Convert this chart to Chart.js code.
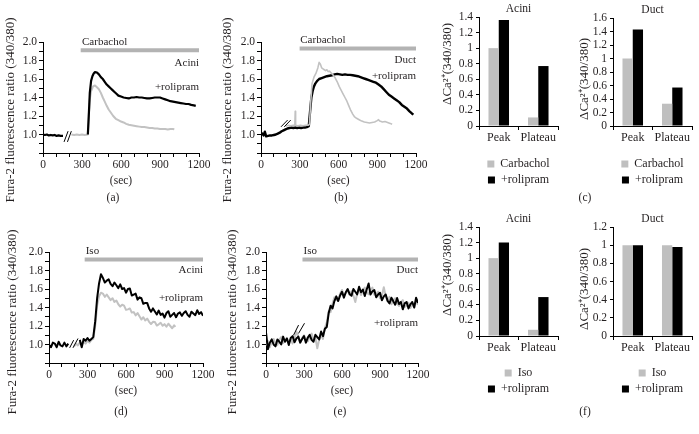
<!DOCTYPE html>
<html>
<head>
<meta charset="utf-8">
<script src="https://cdn.jsdelivr.net/npm/chart.js@4.4.1/dist/chart.umd.min.js"></script>
<style>
  body { margin: 0; background: #fff; width: 699px; height: 434px; position: relative; overflow: hidden; }
  canvas { position: absolute; }
  .tag { position: absolute; font: 11.5px "Liberation Serif", serif; color: #231f20; transform: translateX(-50%); line-height: 13px; }
</style>
</head>
<body>
<canvas id="traceA" width="215" height="215" style="left:0;top:0"></canvas>
<canvas id="traceB" width="215" height="215" style="left:218px;top:0"></canvas>
<canvas id="barCAcini" width="125" height="196" style="left:440px;top:0"></canvas>
<canvas id="barCDuct" width="120" height="196" style="left:578px;top:0"></canvas>
<canvas id="traceD" width="215" height="215" style="left:0;top:210px"></canvas>
<canvas id="traceE" width="215" height="215" style="left:223px;top:210px"></canvas>
<canvas id="barFAcini" width="125" height="195" style="left:440px;top:210px"></canvas>
<canvas id="barFDuct" width="120" height="195" style="left:578px;top:210px"></canvas>

<div class="tag" style="left:113px;top:191px">(a)</div>
<div class="tag" style="left:341px;top:191px">(b)</div>
<div class="tag" style="left:585px;top:191px">(c)</div>
<div class="tag" style="left:121px;top:405px">(d)</div>
<div class="tag" style="left:340px;top:405px">(e)</div>
<div class="tag" style="left:585px;top:405px">(f)</div>

<script>
// ---- trace data (time in sec, fura-2 ratio) ----
// (a) acini, carbachol
const aBlackT = [0,15,30,45,60,75,90,105,120,135,154,200,345,352,360,370,380,390,400,
  415,430,445,460,475,490,505,520,535,550,565,580,
  600,620,640,660,680,700,720,740,760,780,800,820,840,860,880,900,920,940,960,980,
  1000,1020,1040,1060,1080,1100,1120,1140,1160,1175];
const aBlackV = [1.0,0.995,1.0,0.99,0.995,0.99,0.995,0.985,0.99,0.985,0.985,null,1.0,1.2,1.45,1.58,1.63,1.66,1.675,
  1.67,1.65,1.62,1.60,1.57,1.54,1.52,1.50,1.48,1.46,1.44,1.42,
  1.41,1.40,1.395,1.39,1.40,1.40,1.405,1.40,1.40,1.395,1.39,1.39,1.395,1.40,1.40,1.40,1.39,1.38,1.37,1.36,
  1.355,1.35,1.345,1.34,1.335,1.33,1.33,1.32,1.315,1.31];
const aGrayT = [218,240,260,280,300,320,345,352,360,370,385,400,415,430,445,460,475,490,505,520,
  540,560,580,600,620,640,660,680,700,720,740,760,780,800,820,840,860,880,900,920,940,960,980,1000,1010];
const aGrayV = [1.0,0.995,1.0,0.995,1.0,0.995,1.0,1.2,1.38,1.47,1.52,1.53,1.51,1.49,1.45,1.40,1.355,1.31,1.27,1.24,
  1.20,1.17,1.155,1.14,1.13,1.115,1.105,1.10,1.095,1.09,1.085,1.08,1.08,1.075,1.07,1.07,1.065,1.065,1.06,1.06,1.06,1.055,1.06,1.06,1.055];
const aStimT = [290, 1200];
const aStimV = [1.91, 1.91];

// (b) duct, carbachol
const bBlackT = [0,10,20,30,40,55,70,85,100,115,130,145,160,175,190,205,220,235,250,265,280,295,310,325,340,355,370,
  380,390,400,410,420,435,450,
  470,490,510,530,550,570,590,610,630,650,670,690,710,730,750,770,790,810,830,850,870,890,910,930,950,970,990,
  1010,1030,1050,1070,1090,1110,1130,1150,1170,1180];
const bBlackV = [1.0,1.01,0.99,1.03,0.98,0.985,0.99,0.99,0.995,1.0,1.01,1.02,1.035,1.045,1.055,1.065,1.07,1.075,1.07,1.075,1.07,1.075,1.07,1.075,1.075,1.08,1.09,
  1.25,1.40,1.47,1.52,1.55,1.58,1.60,
  1.61,1.62,1.63,1.635,1.64,1.65,1.655,1.65,1.645,1.65,1.645,1.645,1.64,1.635,1.63,1.62,1.61,1.60,1.59,1.58,1.57,1.56,1.54,1.52,1.49,1.46,1.43,
  1.41,1.39,1.37,1.35,1.32,1.30,1.28,1.25,1.225,1.215];
const bGrayT = [190,210,230,250,262,265,268,285,305,325,345,365,375,385,395,410,425,440,450,460,
  470,480,490,500,510,520,530,540,550,560,575,590,605,620,635,650,665,680,695,710,
  725,740,760,780,800,820,840,860,880,900,910,920,940,960,980,1000,1015];
const bGrayV = [1.09,1.10,1.095,1.10,1.10,1.25,1.10,1.095,1.10,1.095,1.10,1.10,1.11,1.35,1.55,1.62,1.66,1.72,1.78,1.76,
  1.72,1.71,1.70,1.69,1.70,1.68,1.685,1.67,1.655,1.64,1.61,1.57,1.52,1.48,1.44,1.40,1.36,1.31,1.26,1.22,
  1.19,1.175,1.16,1.145,1.135,1.13,1.125,1.13,1.135,1.15,1.16,1.145,1.135,1.14,1.13,1.12,1.11];
const bStimT = [299, 1200];
const bStimV = [1.93, 1.93];

// (d) acini, isoproterenol
const dBlackT = [0,15,30,45,60,75,90,105,120,135,150,195,
  240,255,270,285,300,315,330,345,
  360,375,390,405,420,435,450,465,480,495,510,525,540,555,570,585,600,615,630,645,660,675,690,705,720,735,750,765,780,795,
  810,825,840,855,870,885,900,915,930,945,960,975,990,1005,1020,1035,1050,1065,1080,1095,1110,1125,1140,1155,1170,1185,1200];
const dBlackV = [1.00,0.97,1.02,1.01,0.97,1.03,0.99,0.98,1.02,0.98,1.01,null,
  1.05,0.97,1.06,1.04,1.07,1.04,1.06,1.08,
  1.25,1.50,1.66,1.76,1.72,1.67,1.69,1.705,1.655,1.63,1.67,1.64,1.61,1.65,1.60,1.61,1.56,1.60,1.605,1.53,1.54,1.55,1.485,1.51,1.50,1.44,1.45,1.45,1.39,1.355,
  1.39,1.357,1.325,1.367,1.32,1.335,1.29,1.34,1.36,1.30,1.32,1.34,1.295,1.335,1.347,1.31,1.34,1.36,1.32,1.30,1.355,1.335,1.317,1.37,1.33,1.35,1.31];
const dGrayT = [195,210,225,240,255,270,285,300,315,330,345,
  360,375,390,405,420,435,450,465,480,495,510,525,540,555,570,585,600,615,630,645,660,675,690,705,720,735,750,765,780,795,
  810,825,840,855,870,885,900,915,930,945,960,975,985];
const dGrayV = [0.98,1.01,0.99,1.02,1.00,1.03,1.01,1.04,1.02,1.05,1.06,
  1.20,1.42,1.52,1.56,1.55,1.515,1.54,1.51,1.48,1.50,1.46,1.475,1.435,1.41,1.43,1.42,1.375,1.38,1.39,1.345,1.35,1.315,1.34,1.305,1.27,1.295,1.26,1.28,1.245,1.222,
  1.245,1.243,1.205,1.218,1.235,1.202,1.22,1.192,1.225,1.20,1.175,1.207,1.19];
const dStimT = [278, 1200];
const dStimV = [1.92, 1.92];

// (e) duct, isoproterenol
const eT = [0,15,30,45,60,75,90,105,120,135,150,165,180,195,210,225,240,255,270,285,
  300,315,330,345,360,375,390,405,420,435,450,465,480,495,510,525,540,555,570,585,
  600,615,630,645,660,675,690,705,720,735,750,765,780,795,810,825,840,855,870,885,
  900,915,930,945,960,975,990,1005,1020,1035,1050,1065,1080,1095,1110,1125,1140,1155,1170,1185,1200];
const eBlackV = [1.13,0.95,1.02,1.055,1.00,0.98,1.055,1.03,1.00,1.085,1.03,1.065,0.995,1.07,1.09,1.025,1.065,1.085,1.02,1.06,
  1.09,1.02,1.075,1.105,1.05,1.03,1.105,1.08,1.055,1.14,1.09,1.17,1.19,1.34,1.42,1.39,1.47,1.52,1.47,1.53,
  1.57,1.507,1.565,1.60,1.545,1.527,1.60,1.57,1.542,1.624,1.565,1.595,1.525,1.595,1.66,1.54,1.575,1.588,1.51,1.54,
  1.56,1.478,1.52,1.54,1.472,1.445,1.505,1.468,1.43,1.503,1.437,1.46,1.38,1.445,1.46,1.39,1.435,1.46,1.40,1.505,1.45];
const eGrayV = [0.99,1.04,0.97,1.025,1.06,1.01,0.995,1.05,1.08,1.016,1.04,1.073,1.016,1.059,1.011,1.073,1.14,1.086,1.018,1.07,
  1.10,1.052,1.034,1.086,1.118,1.05,1.075,0.96,1.055,1.10,1.06,1.18,1.24,1.36,1.35,1.44,1.51,1.48,1.48,1.55,
  1.59,1.527,1.555,1.59,1.535,1.577,1.529,1.46,1.552,1.604,1.535,1.585,1.615,1.565,1.544,1.59,1.615,1.538,1.55,1.57,
  1.50,1.528,1.62,1.52,1.472,1.515,1.435,1.478,1.50,1.443,1.417,1.46,1.48,1.405,1.42,1.45,1.395,1.44,1.40,1.465,1.43];
const eStimT = [288, 1200];
const eStimV = [1.92, 1.92];

// ---- summary bars ----
const barCategories = ["Peak", "Plateau"];
const cAciniCarb = [1.0, 0.11];
const cAciniRoli = [1.36, 0.77];
const cDuctCarb = [1.0, 0.33];
const cDuctRoli = [1.43, 0.57];
const fAciniIso = [1.0, 0.08];
const fAciniRoli = [1.2, 0.5];
const fDuctIso = [1.0, 1.0];
const fDuctRoli = [1.0, 0.98];

const ink = "#231f20";
const lightGray = "#c2c2c2";
const serif = '"Liberation Serif", serif';
Chart.defaults.font.family = serif;
Chart.defaults.font.size = 11.5;
Chart.defaults.color = ink;

const toPoints = (ts, vs) => ts.map((t, i) => ({ x: t, y: vs[i] }));

// texts, break marks, rotated y titles and panel titles drawn over the charts
const notesPlugin = {
  id: "notes",
  afterDraw(chart, args, opts) {
    const { ctx, chartArea } = chart;
    const x = chart.scales.x, y = chart.scales.y;
    ctx.save();
    ctx.fillStyle = ink;
    ctx.textBaseline = "middle";
    ctx.font = "11px " + serif;
    if (opts.title) {
      ctx.font = "11.5px " + serif;
      ctx.textAlign = "center";
      ctx.fillText(opts.title, (chartArea.left + chartArea.right) / 2, chartArea.top - 8);
      ctx.font = "11px " + serif;
    }
    (opts.texts || []).forEach((t) => {
      ctx.textAlign = t.align;
      ctx.fillText(t.text, x.getPixelForValue(t.x), y.getPixelForValue(t.y));
    });
    ctx.strokeStyle = "#000";
    ctx.lineWidth = 1;
    (opts.slashes || []).forEach((s) => {
      ctx.beginPath();
      ctx.moveTo(x.getPixelForValue(s[0]), y.getPixelForValue(s[1]));
      ctx.lineTo(x.getPixelForValue(s[2]), y.getPixelForValue(s[3]));
      ctx.stroke();
    });
    if (opts.yTitle) {
      ctx.font = opts.yTitle.size + "px " + serif;
      ctx.translate(opts.yTitle.x, opts.yTitle.y);
      ctx.rotate(-Math.PI / 2);
      ctx.textAlign = "center";
      ctx.fillText(opts.yTitle.text, 0, 0);
    }
    ctx.restore();
  },
};

function lineSet(points, color, width) {
  return {
    data: points,
    borderColor: color,
    borderWidth: width,
    pointRadius: 0,
    fill: false,
    tension: 0,
    borderJoinStyle: "round",
  };
}

function traceChart(id, datasets, pad, yWidth, notes) {
  new Chart(document.getElementById(id), {
    type: "line",
    data: { datasets: datasets },
    options: {
      responsive: false,
      animation: false,
      layout: { padding: pad },
      scales: {
        x: {
          type: "linear",
          min: 0,
          max: 1200,
          border: { color: "#000" },
          grid: { drawOnChartArea: false, tickLength: 4, color: "#000" },
          ticks: {
            stepSize: 100,
            autoSkip: false,
            maxRotation: 0,
            padding: 1,
            callback: (v) => (v % 300 === 0 ? String(v) : ""),
          },
          title: { display: true, text: "(sec)", padding: { top: 0, bottom: 2 } },
          afterFit: (s) => { s.height = 37; s.paddingLeft = 0; s.paddingRight = 0; },
        },
        y: {
          min: 0.8,
          max: 2.0,
          border: { color: "#000" },
          grid: { drawOnChartArea: false, tickLength: 4, color: "#000" },
          ticks: {
            stepSize: 0.1,
            autoSkip: false,
            padding: 2,
            callback: (v) => {
              const k = Math.round(v * 10);
              return k % 2 === 0 && k > 8 ? (k / 10).toFixed(1) : "";
            },
          },
          afterFit: (s) => { s.width = yWidth; s.paddingTop = 0; s.paddingBottom = 0; },
        },
      },
      plugins: { legend: { display: false }, tooltip: { enabled: false }, notes: notes },
    },
    plugins: [notesPlugin],
  });
}

function barChart(id, title, max, seriesA, labelA, seriesB, pad, yWidth, xHeight, yTitle) {
  new Chart(document.getElementById(id), {
    type: "bar",
    data: {
      labels: barCategories,
      datasets: [
        { label: labelA, data: seriesA, backgroundColor: "#bfbfbf" },
        { label: "+rolipram", data: seriesB, backgroundColor: "#000" },
      ],
    },
    options: {
      responsive: false,
      animation: false,
      layout: { padding: pad },
      datasets: { bar: { categoryPercentage: 0.52, barPercentage: 1 } },
      scales: {
        x: {
          border: { color: "#000" },
          grid: { drawOnChartArea: false, tickLength: 4, color: "#000" },
          ticks: { padding: 1, font: { size: 12 }, autoSkip: false, maxRotation: 0, minRotation: 0 },
          afterFit: (s) => { s.height = xHeight; s.paddingLeft = 0; s.paddingRight = 0; },
        },
        y: {
          min: 0,
          max: max,
          border: { color: "#000" },
          grid: { drawOnChartArea: false, tickLength: 3, color: "#000" },
          ticks: { stepSize: 0.2, autoSkip: false, padding: 3, callback: (v) => String(Math.round(v * 10) / 10) },
          afterFit: (s) => { s.width = yWidth; s.paddingTop = 0; s.paddingBottom = 0; },
        },
      },
      plugins: {
        legend: {
          position: "bottom",
          fullSize: false,
          labels: { boxWidth: 7, boxHeight: 7, padding: 4, color: ink, font: { size: 12 } },
        },
        tooltip: { enabled: false },
        notes: { title: title, yTitle: yTitle },
      },
    },
    plugins: [notesPlugin],
  });
}

const furaTitle = "Fura-2 fluorescence ratio (340/380)";
const caTitle = "ΔCa²⁺(340/380)";

// (a)
traceChart("traceA", [
  lineSet(toPoints(aBlackT, aBlackV), "#000", 2.2),
  lineSet(toPoints(aGrayT, aGrayV), lightGray, 2),
  lineSet(toPoints(aStimT, aStimV), "#b3b3b3", 4),
], { top: 42, right: 16, left: 0, bottom: 25 }, 43, {
  texts: [
    { text: "Carbachol", x: 300, y: 2.0, align: "left" },
    { text: "Acini", x: 1200, y: 1.77, align: "right" },
    { text: "+rolipram", x: 1200, y: 1.51, align: "right" },
  ],
  slashes: [[162, 0.92, 193, 1.036], [188, 0.92, 218, 1.036]],
  yTitle: { text: furaTitle, x: 11, y: 110, size: 13 },
});

// (b)
traceChart("traceB", [
  lineSet(toPoints(bGrayT, bGrayV), lightGray, 1.6),
  lineSet(toPoints(bBlackT, bBlackV), "#000", 2.4),
  lineSet(toPoints(bStimT, bStimV), "#b3b3b3", 4),
], { top: 42, right: 17, left: 0, bottom: 25 }, 43, {
  texts: [
    { text: "Carbachol", x: 304, y: 2.02, align: "left" },
    { text: "Duct", x: 1200, y: 1.80, align: "right" },
    { text: "+rolipram", x: 1200, y: 1.63, align: "right" },
  ],
  slashes: [[155, 1.083, 206, 1.156], [180, 1.083, 230, 1.156]],
  yTitle: { text: furaTitle, x: 10, y: 110, size: 13 },
});

// (d)
traceChart("traceD", [
  lineSet(toPoints(dBlackT, dBlackV), "#000", 2),
  lineSet(toPoints(dGrayT, dGrayV), lightGray, 2),
  lineSet(toPoints(dStimT, dStimV), "#b3b3b3", 4),
], { top: 42, right: 12, left: 4, bottom: 25 }, 45, {
  texts: [
    { text: "Iso", x: 286, y: 2.01, align: "left" },
    { text: "Acini", x: 1200, y: 1.80, align: "right" },
    { text: "+rolipram", x: 1200, y: 1.50, align: "right" },
  ],
  slashes: [[161, 0.964, 192, 1.047], [187, 0.964, 226, 1.065]],
  yTitle: { text: furaTitle, x: 13, y: 112, size: 13 },
});

// (e)
traceChart("traceE", [
  lineSet(toPoints(eT, eBlackV), "#000", 2),
  lineSet(toPoints(eT, eGrayV), lightGray, 2),
  lineSet(toPoints(eStimT, eStimV), "#b3b3b3", 4),
], { top: 42, right: 20, left: 0, bottom: 25 }, 43, {
  texts: [
    { text: "Iso", x: 296, y: 2.01, align: "left" },
    { text: "Duct", x: 1200, y: 1.80, align: "right" },
    { text: "+rolipram", x: 1200, y: 1.23, align: "right" },
  ],
  slashes: [[217, 1.10, 257, 1.21], [257, 1.12, 304, 1.23]],
  yTitle: { text: furaTitle, x: 10, y: 112, size: 13 },
});

// (c) and (f)
barChart("barCAcini", "Acini", 1.4, cAciniCarb, "Carbachol", cAciniRoli,
  { top: 17, right: 7, left: 0, bottom: 0 }, 39, 28, { text: caTitle, x: 8, y: 64, size: 13 });
barChart("barCDuct", "Duct", 1.6, cDuctCarb, "Carbachol", cDuctRoli,
  { top: 18, right: 6, left: 0, bottom: 0 }, 35, 28, { text: caTitle, x: 7, y: 79, size: 13 });
barChart("barFAcini", "Acini", 1.4, fAciniIso, "Iso", fAciniRoli,
  { top: 17, right: 7, left: 0, bottom: 0 }, 39, 27, { text: caTitle, x: 8, y: 65, size: 13 });
barChart("barFDuct", "Duct", 1.2, fDuctIso, "Iso", fDuctRoli,
  { top: 17, right: 6, left: 0, bottom: 0 }, 35, 27, { text: caTitle, x: 7, y: 79, size: 13 });
</script>
</body>
</html>
